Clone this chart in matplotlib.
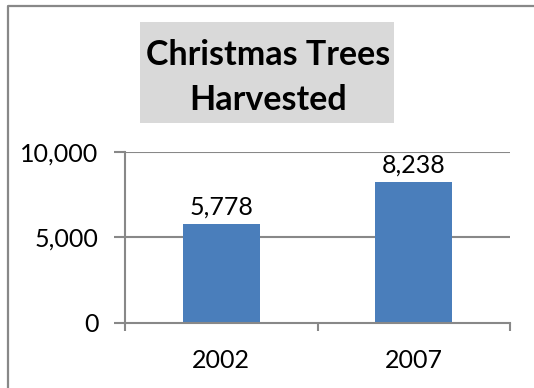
import matplotlib.pyplot as plt
from matplotlib.lines import Line2D
from matplotlib.patches import Rectangle

years = ['2002', '2007']
trees = [5778, 8238]
y_ticks = [0, 5000, 10000]
y_tick_labels = ['0', '5,000', '10,000']

plt.rcParams['font.family'] = ['Lato', 'DejaVu Sans']

W, H = 534, 388
fig = plt.figure(figsize=(W / 100, H / 100), dpi=100)

def fx(px):
    return px / W

def fy(py):
    return 1 - py / H

# chart frame (left and top edges show)
fig.add_artist(Line2D([fx(8), fx(8), 1.0], [0.0, fy(6), fy(6)],
                      color='#888888', lw=1.6, transform=fig.transFigure))

# title block
fig.add_artist(Rectangle((fx(140), fy(123)), fx(394) - fx(140), fy(22) - fy(123),
                         facecolor='#d9d9d9', edgecolor='none', transform=fig.transFigure))
fig.text(fx(268), fy(65), 'Christmas Trees', ha='center', va='baseline',
         fontsize=24.5, fontweight='bold', color='black')
fig.text(fx(268), fy(110), 'Harvested', ha='center', va='baseline',
         fontsize=24.5, fontweight='bold', color='black')

ax = fig.add_axes([fx(125), fy(323), fx(510) - fx(125), fy(152) - fy(323)])
grey = '#888888'

bars = ax.bar(range(len(years)), trees, width=0.4, color='#4a7ebb', zorder=3)
ax.bar_label(bars, labels=[f'{v:,}' for v in trees], padding=4, fontsize=18)

ax.set_xlim(-0.5, len(years) - 0.5)
ax.set_ylim(0, 10000)
ax.set_yticks(y_ticks)
ax.set_yticklabels(y_tick_labels, fontsize=18)
ax.set_xticks(range(len(years)))
ax.set_xticklabels(years, fontsize=18)
ax.set_xticks([-0.5, 0.5, 1.5], minor=True)

ax.tick_params(axis='y', direction='out', length=8, width=1.5, color=grey, pad=11)
ax.tick_params(axis='x', which='major', length=0, pad=19)
ax.tick_params(axis='x', which='minor', direction='out', length=6, width=1.5, color=grey)

for v in y_ticks[1:]:
    ax.axhline(v, color=grey, lw=1.5, zorder=1)

ax.spines['top'].set_visible(False)
ax.spines['right'].set_visible(False)
ax.spines['left'].set_color(grey)
ax.spines['bottom'].set_color(grey)
ax.spines['left'].set_linewidth(1.5)
ax.spines['bottom'].set_linewidth(1.5)
ax.spines['bottom'].set_zorder(4)

fig.savefig('out.png', dpi=100)
